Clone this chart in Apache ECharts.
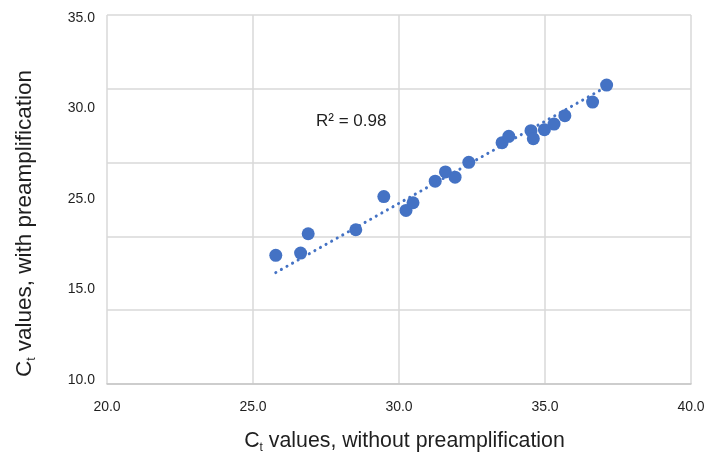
<!DOCTYPE html>
<html>
<head>
<meta charset="utf-8">
<script src="https://cdn.jsdelivr.net/npm/echarts@6/dist/echarts.min.js"></script>
<style>
  html, body { margin: 0; padding: 0; background: #fff; }
  #chart { width: 721px; height: 459px; }
</style>
</head>
<body>
<div id="chart"></div>
<script>
// Ct without preamplification (x) vs with preamplification (y)
var ctWithout = [25.78, 26.63, 26.89, 28.52, 29.48, 30.24, 30.48, 31.24, 31.59, 31.92,
                 32.39, 33.53, 33.76, 34.52, 34.60, 34.98, 35.31, 35.68, 36.63, 37.11];
var ctWith    = [18.72, 18.87, 20.18, 20.45, 22.70, 21.76, 22.28, 23.74, 24.37, 24.01,
                 25.02, 26.35, 26.78, 27.16, 26.62, 27.23, 27.61, 28.18, 29.10, 30.25];
// trendline ends
var trendX = [25.78, 37.11];
var trendY = [17.55, 30.15];
// y tick labels as printed on the original
var yTickLabels = ['10.0', '15.0', '25.0', '30.0', '35.0'];
var rSquared = 'R\u00B2 = 0.98';

var blue = '#4472C4';
var textCol = '#1f1f1f';
var fontFam = '"Liberation Sans", Arial, Helvetica, sans-serif';

var points = [];
for (var i = 0; i < ctWithout.length; i++) points.push([ctWithout[i], ctWith[i]]);
var trend = [];
for (var j = 0; j < trendX.length; j++) trend.push([trendX[j], trendY[j]]);

function titleRich(size) {
  return {
    a: { fontSize: size, fontFamily: fontFam, color: textCol, lineHeight: 26, verticalAlign: 'middle' },
    s: { fontSize: 12, fontFamily: fontFam, color: textCol, lineHeight: 26, verticalAlign: 'bottom' }
  };
}

var chart = echarts.init(document.getElementById('chart'), null, { renderer: 'canvas' });
chart.setOption({
  backgroundColor: '#ffffff',
  animation: false,
  textStyle: { fontFamily: fontFam },
  grid: [
    { left: 107, right: 30, top: 15, bottom: 74, containLabel: false },
    { left: 107, right: 30, top: 18, bottom: 79, containLabel: false }
  ],
  xAxis: [{
    type: 'value', gridIndex: 0, min: 20, max: 40, interval: 5,
    name: '{a|C}{s|t}{a| values, without preamplification}',
    nameLocation: 'middle', nameGap: 44,
    nameTextStyle: { rich: titleRich(21.3), padding: [0, 0, 0, 11] },
    axisLine: { show: true, lineStyle: { color: '#c6c6c6', width: 1.5 } },
    axisTick: { show: false },
    axisLabel: { color: textCol, fontSize: 14, margin: 16, formatter: function (v) { return v.toFixed(1); } },
    splitLine: { show: true, lineStyle: { color: '#d9d9d9', width: 1.5 } }
  }, {
    type: 'value', gridIndex: 1, min: 20, max: 40, show: false
  }],
  yAxis: [{
    type: 'value', gridIndex: 0, min: 10, max: 35, interval: 5,
    name: '{a|C}{s|t}{a| values, with preamplification}',
    nameLocation: 'middle', nameGap: 69,
    nameTextStyle: { rich: titleRich(22.5), padding: [0, 48, 0, 0] },
    axisLine: { show: false },
    axisTick: { show: false },
    axisLabel: { show: false },
    splitLine: { show: true, lineStyle: { color: '#d9d9d9', width: 1.5 } }
  }, {
    type: 'category', gridIndex: 1, data: yTickLabels, boundaryGap: false,
    axisLine: { show: false },
    axisTick: { show: false },
    splitLine: { show: false },
    axisLabel: { color: textCol, fontSize: 14, margin: 12 }
  }],
  graphic: [{
    type: 'text', left: 316, top: 113,
    style: { text: rSquared, fontSize: 17, fontFamily: fontFam, fill: textCol }
  }],
  series: [{
    type: 'scatter', xAxisIndex: 0, yAxisIndex: 0,
    data: points, symbolSize: 13,
    itemStyle: { color: blue, opacity: 1 },
    z: 3
  }, {
    type: 'line', xAxisIndex: 0, yAxisIndex: 0,
    data: trend, showSymbol: false, silent: true,
    lineStyle: { color: blue, width: 3, type: [0.1, 6.3], cap: 'round' },
    z: 4
  }]
});
</script>
</body>
</html>
